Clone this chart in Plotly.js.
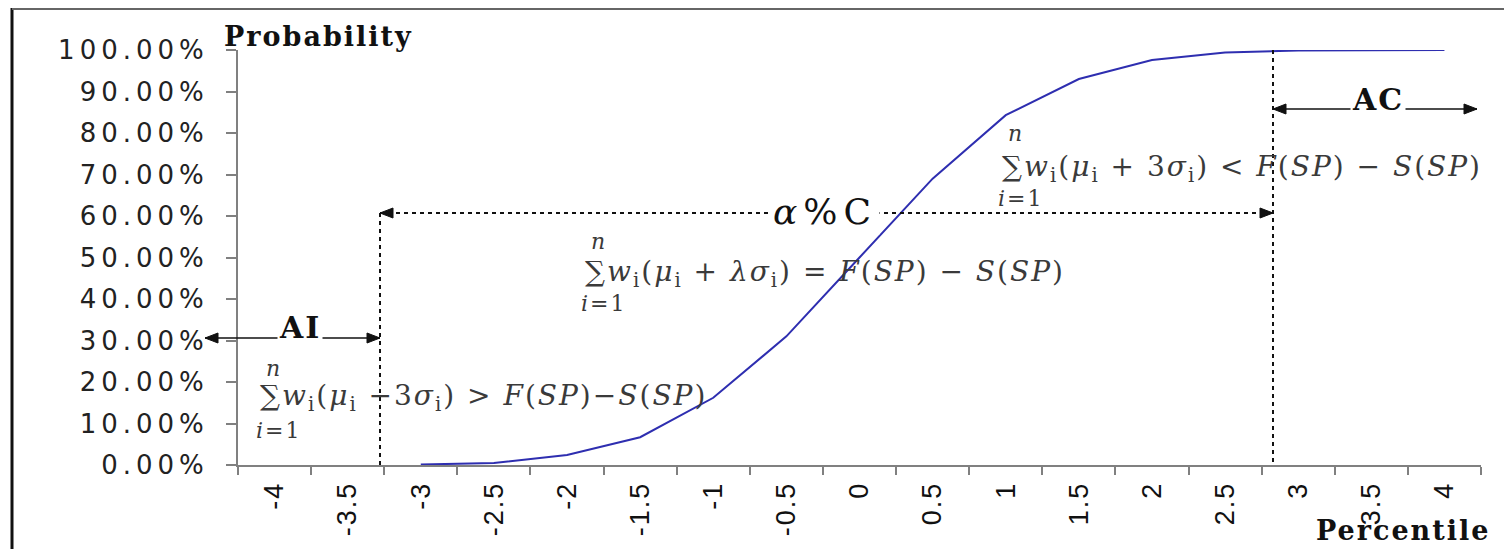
<!DOCTYPE html>
<html><head><meta charset="utf-8">
<script src="https://cdn.plot.ly/plotly-3.0.1.min.js"></script>
<style>
html,body{margin:0;padding:0;background:#fff;}
#chart{width:1504px;height:549px;}
.ytick text{letter-spacing:5px;}
.xtick text{letter-spacing:2px;}
.annotation-text{letter-spacing:2px;}
</style></head><body><div id="chart"></div>
<script>
// ---- data ----
const categories = ['-4','-3.5','-3','-2.5','-2','-1.5','-1','-0.5','0','0.5','1','1.5','2','2.5','3','3.5','4'];
const curveX = ['-3','-2.5','-2','-1.5','-1','-0.5','0','0.5','1','1.5','2','2.5','3','3.5','4'];
const curveY = [0.001,0.005,0.024,0.067,0.162,0.31,0.5,0.69,0.843,0.93,0.976,0.994,0.999,1.0,1.0];
const yTickVals = [0,0.1,0.2,0.3,0.4,0.5,0.6,0.7,0.8,0.9,1.0];
const yTickText = ['0.00%','10.00%','20.00%','30.00%','40.00%','50.00%','60.00%','70.00%','80.00%','90.00%','100.00%'];

// ---- layout helpers (pixel -> paper) ----
const L=238, R=1481, T=50, B=465;
const X = p => (p-L)/(R-L);
const Y = p => (B-p)/(B-T);

const serif = 'DejaVu Serif, Liberation Serif, serif';
const dashStyle = {color:'#111', width:2, dash:'4px,4px'};
const solidStyle = {color:'#111', width:1.6};

function seg(x0,y0,x1,y1,line){return {type:'line',xref:'paper',yref:'paper',x0:X(x0),y0:Y(y0),x1:X(x1),y1:Y(y1),line:line,layer:'above'};}
function head(x,y,dir){
  const bx = x - dir*13;
  const p = 'M '+X(x)+' '+Y(y)+' L '+X(bx)+' '+Y(y-5)+' L '+X(bx)+' '+Y(y+5)+' Z';
  return {type:'path',xref:'paper',yref:'paper',path:p,fillcolor:'#111',line:{color:'#111',width:1},layer:'above'};
}
function txt(x,y,t,size,opts){return Object.assign({xref:'paper',yref:'paper',x:X(x),y:Y(y),text:t,showarrow:false,xanchor:'center',yanchor:'middle',font:{family:serif,size:size,color:'#111'}},opts||{});}

const fColor = '#3a3a3a';
function formula(x,yN,yMain,yI,body){
  return [
    txt(x+6,yN,'<i>n</i>',22,{xanchor:'left',font:{family:serif,size:22,color:fColor}}),
    txt(x,yMain,body,28,{xanchor:'left',font:{family:serif,size:28,color:fColor}}),
    txt(x-4,yI,'<i>i</i>=1',22,{xanchor:'left',font:{family:serif,size:22,color:fColor}})
  ];
}
const sub = '<sub>i</sub>';
const f1 = '∑<i>w</i>'+sub+'(<i>μ</i>'+sub+' −3<i>σ</i>'+sub+') &gt; <i>F</i>(<i>SP</i>)−<i>S</i>(<i>SP</i>)';
const f2 = '∑<i>w</i>'+sub+'(<i>μ</i>'+sub+' + <i>λσ</i>'+sub+') = <i>F</i>(<i>SP</i>) − <i>S</i>(<i>SP</i>)';
const f3 = '∑<i>w</i>'+sub+'(<i>μ</i>'+sub+' + 3<i>σ</i>'+sub+') &lt; <i>F</i>(<i>SP</i>) − <i>S</i>(<i>SP</i>)';

const trace = {
  type:'scatter', mode:'lines', x:curveX, y:curveY,
  line:{color:'#2e2eb0', width:2}, cliponaxis:false, hoverinfo:'skip'
};

const layout = {
  width:1504, height:549,
  margin:{l:L, r:1504-R, t:T, b:549-B, pad:0},
  paper_bgcolor:'#fff', plot_bgcolor:'#fff',
  showlegend:false,
  xaxis:{
    type:'category', categoryorder:'array', categoryarray:categories,
    range:[-0.5,16.5], fixedrange:true,
    showline:true, linecolor:'#808080', linewidth:2,
    ticks:'outside', tickson:'boundaries', ticklen:8, tickwidth:2, tickcolor:'#808080',
    tickangle:-90, ticklabelstandoff:4,
    tickfont:{family:'Liberation Sans, Arial, sans-serif', size:27, color:'#111'},
    showgrid:false, zeroline:false, automargin:false
  },
  yaxis:{
    range:[0,1], fixedrange:true,
    tickmode:'array', tickvals:yTickVals, ticktext:yTickText,
    showline:true, linecolor:'#808080', linewidth:2,
    ticks:'outside', ticklen:10, tickwidth:2, tickcolor:'#808080', ticklabelstandoff:12,
    tickfont:{family:'DejaVu Sans, sans-serif', size:26, color:'#222'},
    showgrid:false, zeroline:false, automargin:false
  },
  shapes:[
    seg(12,8,12,549,{color:'#111',width:3}),
    seg(12,9,1504,9,{color:'#666',width:2}),
    seg(380,213,380,465,dashStyle),
    seg(1273,50,1273,465,dashStyle),
    seg(380,213,1273,213,dashStyle),
    seg(205,338,380,338,solidStyle),
    seg(1273,109,1477,109,solidStyle),
    head(380,213,-1), head(1273,213,1),
    head(205,338,-1), head(380,338,1),
    head(1273,109,-1), head(1477,109,1)
  ],
  annotations:[
    txt(825,211,'<span style="letter-spacing:6px"><i>α</i>%C</span>',36,{bgcolor:'#fff',borderpad:2}),
    txt(300,327,'<b>AI</b>',30,{bgcolor:'#fff',borderpad:1}),
    txt(1378,99,'<b>AC</b>',30,{bgcolor:'#fff',borderpad:1}),
    txt(222,36,'<b>Probability</b>',27,{xanchor:'left'}),
    txt(1492,530,'<b>Percentile</b>',27,{xanchor:'right'})
  ].concat(formula(258,368,397,430,f1))
   .concat(formula(583,241,273,303,f2))
   .concat(formula(1000,133,168,198,f3))
};

Plotly.newPlot('chart',[trace],layout,{displayModeBar:false,staticPlot:true});
</script></body></html>
